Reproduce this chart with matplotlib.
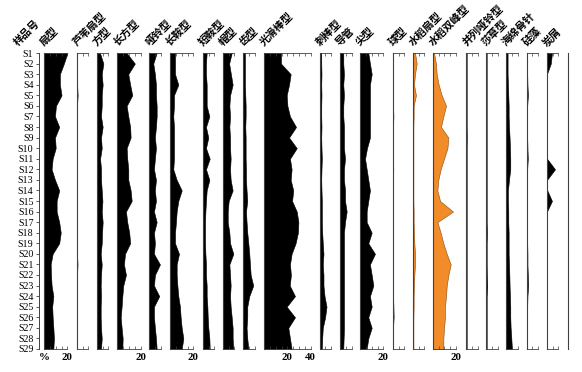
import matplotlib
matplotlib.use('Agg')
import matplotlib.pyplot as plt
import numpy as np

# ---------------- data ----------------
samples = ["S1", "S2", "S3", "S4", "S5", "S6", "S7", "S8", "S9", "S10",
           "S11", "S12", "S13", "S14", "S15", "S16", "S17", "S18", "S19", "S20",
           "S21", "S22", "S23", "S24", "S25", "S26", "S27", "S28", "S29"]

names = ["扇型", "芦苇扇型", "方型", "长方型", "哑铃型", "长鞍型", "短鞍型", "帽型", "齿型",
         "光滑棒型", "刺棒型", "导管", "尖型", "球型", "水稻扇型", "水稻双峰型",
         "并列哑铃型", "莎草型", "海绵骨针", "硅藻", "炭屑"]

shan = [20, 17, 13.6, 13.6, 15, 10.2, 9.4, 13, 9.4, 10, 7.4, 6.5, 9.4, 13, 10.8,
        10.8, 13, 14.3, 13, 7.4, 5.7, 6, 6.5, 8, 7, 7.4, 8, 8.5, 8]
luwei = [0.3, 0.3, 0.3, 0.4, 0.8, 0.3, 0.3, 0.3, 0.3, 0.3, 0.3, 0.3, 0.3, 0.3, 0.3,
         0.3, 0.3, 0.4, 0.3, 0.3, 0.7, 0.3, 0.3, 0.3, 0.3, 0.3, 0.3, 0.3, 0.3]
fang = [2.8, 5.7, 4.3, 5.1, 4.3, 4.3, 3.7, 5.1, 3.7, 4.3, 2.9, 3.7, 3.7, 4.3, 4.9,
        4.3, 5.1, 4.6, 4.3, 3.4, 4.3, 3.7, 3.4, 3.7, 3.4, 3.4, 3.7, 4.3, 3.7]
changfang = [8, 15, 9.4, 11, 12.8, 8, 9.4, 11, 11.4, 8, 8.5, 9.4, 9.4, 11.4, 12.3,
             7.4, 8.5, 10.2, 11, 6.6, 5.7, 7.4, 5.1, 4.3, 3.7, 2.9, 3.7, 4.6, 4.3]
yaling = [6.3, 3.4, 4.8, 5.7, 5.7, 6.3, 6.3, 5.7, 4.8, 5.7, 4.8, 4.0, 5.7, 4.8, 5.7,
          4.0, 6.3, 4.0, 4.8, 4.0, 9.1, 4.8, 4.0, 8.5, 4.0, 4.0, 4.8, 5.7, 6.3]
changan = [4.3, 4.3, 4.3, 7.1, 3.4, 3.4, 2.8, 3.4, 3.4, 3.4, 3.4, 2.8, 5.7, 10, 7.1,
           5.7, 5.1, 4.3, 4.3, 7.7, 5.7, 5.7, 6.3, 7.1, 8.5, 9.1, 10, 11.4, 10]
duanan = [3.4, 2.8, 2.8, 3.4, 3.4, 3.4, 5.7, 2.8, 4.8, 2.8, 6.0, 2.8, 5.7, 3.4, 2.8,
          2.3, 2.0, 2.0, 2.0, 2.3, 2.8, 2.8, 3.4, 3.4, 4.0, 4.3, 4.8, 5.7, 6.0]
mao = [7.7, 5.5, 7.0, 8.5, 6.3, 5.7, 6.3, 5.7, 6.3, 6.3, 6.8, 6.3, 6.8, 8.5, 5.1,
       4.3, 4.3, 5.7, 6.3, 9.1, 5.7, 6.3, 6.8, 6.3, 6.8, 7.7, 8.5, 8.5, 9.1]
chi = [1.4, 1.4, 1.4, 1.4, 1.7, 2.0, 2.0, 1.7, 2.0, 2.0, 2.0, 2.3, 2.3, 2.8, 3.4,
       2.3, 2.8, 3.4, 4.3, 5.1, 5.7, 6.3, 8.5, 5.1, 3.4, 3.4, 2.8, 3.4, 4.3]
guanghua = [14.5, 14.5, 22.8, 21.4, 19.4, 20, 22.2, 27.4, 21.4, 28, 22.2, 23.6, 22.8, 25, 24,
            28, 29.4, 29, 27, 23.6, 22.2, 23, 22, 26.5, 19.4, 26.5, 20.8, 22.2, 23.6]
cibang = [1.5, 1.5, 1.7, 1.5, 1.7, 1.5, 1.5, 1.7, 1.5, 1.7, 2.0, 1.7, 1.5, 1.7, 2.0,
          2.0, 2.0, 2.3, 2.8, 3.4, 2.8, 3.4, 3.4, 4.3, 6.0, 4.8, 2.8, 2.3, 2.0]
daoguan = [2.8, 2.8, 3.4, 2.8, 3.4, 2.8, 2.8, 3.4, 3.4, 3.4, 4.3, 3.4, 3.4, 4.3, 4.3,
           5.7, 4.3, 3.4, 3.4, 3.4, 3.4, 3.4, 3.4, 3.4, 3.4, 3.4, 3.4, 3.1, 2.8]
jian = [7.1, 8.5, 10, 8.5, 8.5, 8.5, 8.5, 8.5, 8.5, 6.0, 4.3, 5.7, 7.1, 8.5, 7.1,
        5.7, 5.7, 10, 7.1, 12.8, 8.5, 10, 11.4, 8.5, 10, 7.1, 10, 7.1, 5.7]
qiu = [0.3, 0.3, 0.3, 0.3, 0.3, 0.3, 0.6, 0.3, 0.3, 0.3, 0.3, 0.5, 0.3, 0.3, 0.3,
       0.3, 0.3, 0.3, 0.3, 0.3, 0.3, 0.3, 0.3, 0.3, 0.6, 0.8, 0.3, 0.3, 0.3]
shuidao_shan = [2.0, 3.4, 2.0, 1.1, 2.8, 0.8, 0.8, 0.6, 0.6, 0.6, 0.6, 0.6, 0.6, 0.6, 0.6,
                0.8, 0.8, 1.1, 1.4, 2.0, 2.0, 1.4, 1.1, 0.8, 0.8, 0.6, 0.6, 0.6, 0.6]
shuidao_shuangfeng = [1.1, 2.8, 3.4, 5.1, 7.7, 11.4, 9.1, 7.1, 13.4, 12.6, 9.7, 6.8, 4.8, 4.0, 6.3,
                      17.4, 4.0, 6.8, 9.1, 12, 15.4, 13.4, 12, 11.4, 10.5, 10.5, 9.7, 9.1, 9.1]
binglie = [0.3, 0.3, 0.3, 0.3, 0.3, 0.3, 0.3, 0.3, 0.4, 0.3, 0.3, 0.3, 0.3, 0.3, 0.3,
           0.3, 0.3, 0.3, 0.3, 0.3, 0.3, 0.3, 0.3, 0.3, 0.3, 0.3, 0.3, 0.3, 0.3]
shacao = [0.3, 0.3, 0.3, 0.3, 0.3, 0.3, 0.3, 0.3, 0.3, 0.3, 0.3, 0.3, 0.3, 0.3, 0.3,
          0.3, 0.3, 0.5, 0.3, 0.3, 0.3, 0.4, 0.8, 0.3, 0.3, 0.3, 0.3, 0.3, 0.3]
haimian = [1.1, 1.1, 1.1, 1.4, 1.7, 2.0, 2.0, 2.3, 2.8, 3.1, 3.4, 3.4, 2.3, 1.4, 1.4,
           1.7, 1.7, 2.0, 2.0, 2.0, 2.3, 2.6, 2.8, 3.1, 3.4, 3.4, 3.7, 4.3, 4.8]
guizao = [0.5, 0.5, 0.6, 0.8, 1.2, 0.6, 0.5, 0.5, 0.6, 0.8, 1.1, 0.6, 0.5, 0.5, 0.5,
          0.5, 0.6, 0.6, 0.6, 0.8, 0.8, 1.1, 1.4, 0.8, 0.6, 0.6, 0.5, 0.5, 0.5]
tanxie = [4.5, 3.5, 0.2, 0.2, 0.2, 0.2, 0.2, 0.2, 0.2, 0.2, 0.3, 7.1, 0.3, 0.5, 4.5,
          0.2, 0.2, 0.2, 0.2, 0.2, 0.2, 0.2, 0.2, 0.2, 0.2, 0.2, 0.2, 0.2, 0.2]

series = [shan, luwei, fang, changfang, yaling, changan, duanan, mao, chi, guanghua,
          cibang, daoguan, jian, qiu, shuidao_shan, shuidao_shuangfeng, binglie,
          shacao, haimian, guizao, tanxie]

axis_range = [20, 10, 10, 20, 10, 20, 10, 10, 10, 40, 10, 10, 20, 10, 10, 20, 10, 10, 10, 10, 10]
labelled = {0: {0: "%", 20: "20"}, 3: {20: "20"}, 5: {20: "20"}, 9: {20: "20", 40: "40"},
            12: {20: "20"}, 15: {20: "20"}}

# ---------------- layout / style ----------------
W, H = 582, 372
left_px = [44, 76.7, 96.7, 117.3, 149.3, 170, 202.7, 222.7, 243.3, 264, 319.5, 340, 360,
           392.7, 412.7, 432.7, 466.3, 486.3, 506.3, 526.5, 546.7]
right_end = 567.7
top_px, bot_px = 53, 349
scale = 1.17  # px per percent
colors = ["black"] * 21
colors[14] = "#F28C28"
colors[15] = "#F28C28"
cjk = ["Noto Sans CJK SC", "DejaVu Sans"]
serif = "Liberation Serif"
spine_c = "#404040"
head_fs = 7.6

fig = plt.figure(figsize=(W / 100, H / 100), dpi=100)
depth = np.arange(1, len(samples) + 1)

def fx(px):
    return px / W

def fy(px):
    return 1 - px / H

ax_h = (bot_px - top_px) / H

# sample axis
ax0 = fig.add_axes([fx(39), fy(bot_px), fx(1), ax_h])
ax0.set_ylim(len(samples), 1)
ax0.set_xlim(0, 1)
for s in ["top", "right", "bottom"]:
    ax0.spines[s].set_visible(False)
ax0.spines["left"].set_color(spine_c)
ax0.spines["left"].set_linewidth(0.7)
ax0.set_xticks([])
ax0.set_yticks(depth)
ax0.set_yticklabels(samples, fontfamily=serif, fontsize=7.2)
ax0.tick_params(axis="y", direction="out", length=2.5, width=0.6, pad=1.5, color=spine_c)
ax0.patch.set_visible(False)
fig.text(fx(19), fy(48), "样品号", rotation=45, ha="left", va="bottom",
         rotation_mode="anchor", fontsize=head_fs, family=cjk, fontweight="bold")

for i, (name, vals) in enumerate(zip(names, series)):
    L = left_px[i]
    R = left_px[i + 1] - 2 if i + 1 < len(left_px) else right_end
    wpx = R - L
    ax = fig.add_axes([fx(L), fy(bot_px), fx(wpx), ax_h])
    ax.set_xlim(0, wpx / scale)
    ax.set_ylim(len(samples), 1)
    ax.patch.set_visible(False)
    ec = "#8a4a10" if colors[i] != "black" else "black"
    ax.fill_betweenx(depth, 0, vals, color=colors[i], edgecolor=ec, linewidth=0.4)
    rng = axis_range[i]
    for s in ["top", "bottom"]:
        ax.spines[s].set_bounds(0, rng)
        ax.spines[s].set_color(spine_c)
        ax.spines[s].set_linewidth(0.6)
    ax.spines["left"].set_color(spine_c)
    ax.spines["left"].set_linewidth(0.8)
    if i == len(names) - 1:
        ax.spines["right"].set_color(spine_c)
        ax.spines["right"].set_linewidth(0.8)
    else:
        ax.spines["right"].set_visible(False)
    ticks = np.arange(0, rng + 0.1, 5)
    labs = [labelled.get(i, {}).get(int(t), "") for t in ticks]
    ax.set_xticks(ticks)
    ax.set_xticklabels(labs, fontfamily=serif, fontsize=7.8, fontweight="bold")
    ax.tick_params(axis="x", which="both", direction="in", top=True, bottom=True,
                   length=2.2, width=0.5, color=spine_c, pad=3)
    ax.set_yticks([])
    fig.text(fx(L + 1.5), fy(48), name, rotation=45, ha="left", va="bottom",
             rotation_mode="anchor", fontsize=head_fs, family=cjk, fontweight="bold")

fig.savefig("out.png", dpi=100)
